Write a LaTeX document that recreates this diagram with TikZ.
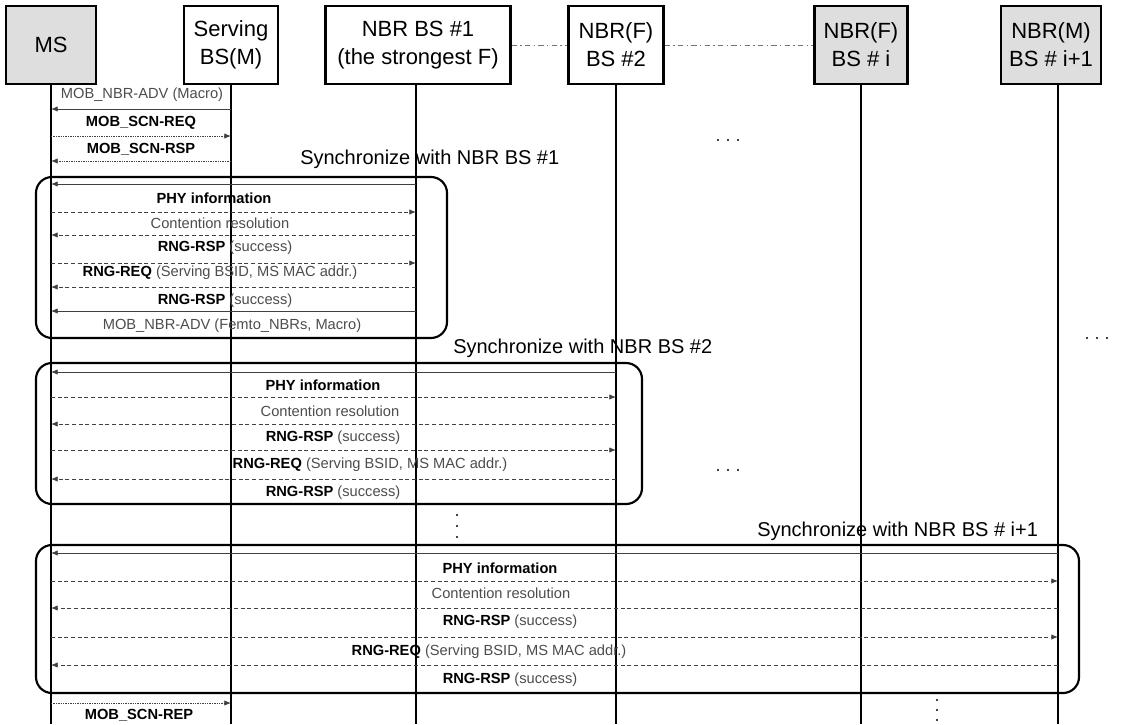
\documentclass[tikz,border=0pt]{standalone}
\usepackage{fontspec}
\setmainfont{Liberation Sans}
\usetikzlibrary{arrows.meta}
\begin{document}
\begin{tikzpicture}[x=0.75pt,y=-0.75pt,
  hdr/.style={draw=black,line width=1.8pt,minimum height=58.5pt,align=center,
    font=\fontsize{16.5}{21}\selectfont,inner sep=0pt,fill=white},
  hdrgray/.style={hdr,fill=black!13},
  life/.style={line width=1.5pt},
  grp/.style={draw=black,line width=1.6pt,rounded corners=12pt},
  msg/.style={line width=0.6pt,draw=black!75,-{Latex[length=5pt,width=4pt]}},
  dmsg/.style={msg,dash pattern=on 3pt off 2pt},
  fmsg/.style={msg,dash pattern=on 1pt off 0.8pt},
  lbl/.style={inner sep=0pt,font=\fontsize{11}{13}\selectfont,text=black!70},
  blbl/.style={inner sep=0pt,font=\fontsize{11}{13}\selectfont\bfseries,text=black},
  sync/.style={inner sep=0pt,anchor=west,font=\fontsize{15}{18}\selectfont},
  hlink/.style={draw=black!55,line width=0.6pt,dash pattern=on 4pt off 2.5pt on 1pt off 2.5pt},
  dotp/.style={fill=black}
]
\useasboundingbox (0,0) rectangle (1123,724);

% headers
\node[hdrgray,minimum width=67.5pt] (ms) at (51,45) {MS};
\node[hdr,minimum width=70.5pt] (sv) at (231,45) {Serving\\BS(M)};
\node[hdr,minimum width=138.75pt] (n1) at (418,45) {NBR BS \#1\\(the strongest F)};
\node[hdr,minimum width=71.25pt] (n2) at (616,45) {NBR(F)\\BS \#2};
\node[hdrgray,minimum width=70pt] (ni) at (861,45) {NBR(F)\\BS \# i};
\node[hdrgray,minimum width=75pt] (nj) at (1051,45) {NBR(M)\\BS \# i+1};
\coordinate (lj) at (1058,84);

\draw[hlink] (n1.east) -- (n2.west);
\draw[hlink] (n2.east) -- (ni.west);

% lifelines
\draw[life] (ms.south) -- (ms |- 0,724);
\draw[life] (sv.south) -- (sv |- 0,724);
\draw[life] (n1.south -| 416,0) -- (416,724);
\draw[life] (n2.south) -- (n2 |- 0,724);
\draw[life] (ni.south) -- (ni |- 0,724);
\draw[life] (lj) -- (lj |- 0,724);

% initial messages
\node[lbl] (t1) at (142,95) {MOB\_NBR-ADV (Macro)};
\draw[msg] (sv |- 0,109) -- (ms |- 0,109);
\node[blbl] (t2) at (141,123) {MOB\_SCN-REQ};
\draw[fmsg] (ms |- 0,136) -- (sv |- 0,136);
\node[blbl] (t3) at (141,149) {MOB\_SCN-RSP};
\draw[fmsg] (sv |- 0,161) -- (ms |- 0,161);

% group 1
\node[sync] (s1) at (300,159) {Synchronize with NBR BS \#1};
\draw[grp] (36,177) rectangle (447,338);
\draw[msg] (416,184) -- (ms |- 0,184);
\node[blbl] (a1) at (214,198) {PHY information};
\draw[dmsg] (ms |- 0,212) -- (416,212);
\node[lbl] (a2) at (220,223) {Contention resolution};
\draw[dmsg] (416,235) -- (ms |- 0,235);
\node[lbl] (a3) at (225,248) {\textcolor{black}{\bfseries RNG-RSP} (success)};
\draw[dmsg] (ms |- 0,263) -- (416,263);
\node[lbl] (a4) at (220,273) {\textcolor{black}{\bfseries RNG-REQ} (Serving BSID, MS MAC addr.)};
\draw[dmsg] (416,287) -- (ms |- 0,287);
\node[lbl] (a5) at (225,301) {\textcolor{black}{\bfseries RNG-RSP} (success)};
\draw[msg] (416,311) -- (ms |- 0,311);
\node[lbl] (a6) at (232,326) {MOB\_NBR-ADV (Femto\_NBRs, Macro)};

% group 2
\node[sync] (s2) at (453,348) {Synchronize with NBR BS \#2};
\draw[grp] (36,363) rectangle (642,504);
\draw[msg] (n2 |- 0,372) -- (ms |- 0,372);
\node[blbl] (b1) at (323,385) {PHY information};
\draw[dmsg] (ms |- 0,397) -- (n2 |- 0,397);
\node[lbl] (b2) at (330,411) {Contention resolution};
\draw[dmsg] (n2 |- 0,424) -- (ms |- 0,424);
\node[lbl] (b3) at (333,438) {\textcolor{black}{\bfseries RNG-RSP} (success)};
\draw[dmsg] (ms |- 0,450) -- (n2 |- 0,450);
\node[lbl] (b4) at (370,465) {\textcolor{black}{\bfseries RNG-REQ} (Serving BSID, MS MAC addr.)};
\draw[dmsg] (n2 |- 0,479) -- (ms |- 0,479);
\node[lbl] (b5) at (333,493) {\textcolor{black}{\bfseries RNG-RSP} (success)};

% group 3
\node[sync] (s3) at (757,531) {Synchronize with NBR BS \# i+1};
\draw[grp] (36,545) rectangle (1079,693);
\draw[msg] (lj |- 0,553) -- (ms |- 0,553);
\node[blbl] (c1) at (500,568) {PHY information};
\draw[dmsg] (ms |- 0,581) -- (lj |- 0,581);
\node[lbl] (c2) at (501,593) {Contention resolution};
\draw[dmsg] (lj |- 0,608) -- (ms |- 0,608);
\node[lbl] (c3) at (510,622) {\textcolor{black}{\bfseries RNG-RSP} (success)};
\draw[dmsg] (ms |- 0,637) -- (lj |- 0,637);
\node[lbl] (c4) at (489,652) {\textcolor{black}{\bfseries RNG-REQ} (Serving BSID, MS MAC addr.)};
\draw[dmsg] (lj |- 0,665) -- (ms |- 0,665);
\node[lbl] (c5) at (510,680) {\textcolor{black}{\bfseries RNG-RSP} (success)};

% final report
\draw[fmsg] (ms |- 0,703) -- (sv |- 0,703);
\node[blbl] (t4) at (139,715) {MOB\_SCN-REP};

% ellipses
\foreach \x in {718,728,738} \fill[dotp] (\x,140) circle[radius=0.9pt];
\foreach \x in {718,728,738} \fill[dotp] (\x,470) circle[radius=0.9pt];
\foreach \x in {1087,1097,1107} \fill[dotp] (\x,338) circle[radius=0.9pt];
\foreach \y in {515,526,537} \fill[dotp] (457,\y) circle[radius=0.9pt];
\foreach \y in {700,710,720} \fill[dotp] (937,\y) circle[radius=0.9pt];
\end{tikzpicture}
\end{document}
